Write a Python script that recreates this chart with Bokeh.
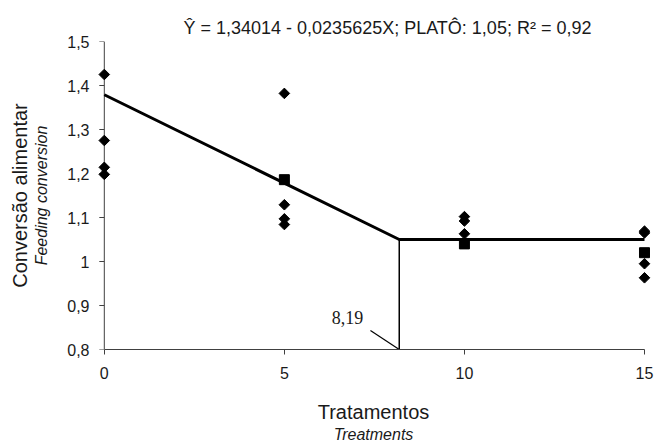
import math
from bokeh.plotting import figure
from bokeh.models import Label, FixedTicker, Range1d, LinearAxis
from bokeh.embed import file_html
from bokeh.resources import INLINE

# ---- data ----
treat_pts = [0, 0, 0, 0, 5, 5, 5, 5, 10, 10, 10, 15, 15, 15, 15]
conv_pts = [1.425, 1.275, 1.214, 1.198, 1.382, 1.129, 1.097, 1.084,
            1.102, 1.092, 1.063, 1.069, 1.065, 0.995, 0.963]
treat_means = [5, 10, 15]
conv_means = [1.186, 1.040, 1.020]
knee_x = 8.19
plateau = 1.05
fit_x = [0, knee_x, 15]
fit_y = [1.379, plateau, plateau]
x_ticks = [0, 5, 10, 15]
y_ticks = [0.8, 0.9, 1.0, 1.1, 1.2, 1.3, 1.4, 1.5]
y_tick_labels = ["0,8", "0,9", "1", "1,1", "1,2", "1,3", "1,4", "1,5"]
title_text = "Ŷ = 1,34014 - 0,0235625X; PLATÔ: 1,05; R² = 0,92"
knee_label = "8,19"
x_title = "Tratamentos"
x_title_en = "Treatments"
y_title = "Conversão alimentar"
y_title_en = "Feeding conversion"

SANS = "Liberation Sans"
SERIF = "Liberation Serif"
TXT = "#1a1a1a"
AX = "#404040"

X0, X1 = -0.3, 15.25
p = figure(width=655, height=445, output_backend="svg", toolbar_location=None,
           x_range=Range1d(X0, X1), y_range=Range1d(0.8, 1.5),
           min_border_left=93, min_border_right=2, min_border_top=41,
           min_border_bottom=96)
p.outline_line_color = None
p.xgrid.visible = False
p.ygrid.visible = False
p.background_fill_color = "white"
p.border_fill_color = "white"

# title
p.title.text = title_text
p.title.text_font = SANS
p.title.text_font_size = "18px"
p.title.text_font_style = "normal"
p.title.text_color = TXT
p.title.align = "left"
p.title.offset = 90
p.title.standoff = 8

xa = p.xaxis[0]
ya = p.yaxis[0]
for ax in (xa, ya):
    ax.axis_line_color = AX
    ax.major_tick_line_color = AX
    ax.major_tick_in = 0
    ax.major_tick_out = 5
    ax.minor_tick_line_color = None
    ax.major_label_text_font = SANS
    ax.major_label_text_font_size = "16px"
    ax.major_label_text_color = TXT
    ax.axis_label_text_font = SANS
    ax.axis_label_text_color = TXT

xa.ticker = FixedTicker(ticks=x_ticks)
xa.bounds = (0, 15)
xa.major_label_standoff = 12
xa.axis_label = x_title
xa.axis_label_text_font_size = "20px"
xa.axis_label_text_font_style = "normal"
xa.axis_label_standoff = 19

# y axis: labels from the library axis at the frame edge; its line and ticks
# are redrawn at x = 0 below (the frame is padded so edge markers are not cut)
ya.ticker = FixedTicker(ticks=y_ticks)
ya.major_label_overrides = {t: l for t, l in zip(y_ticks, y_tick_labels)}
ya.axis_line_color = None
ya.major_tick_line_color = None
ya.major_tick_out = 0
ya.major_label_standoff = 4
ya.axis_label = y_title_en
ya.axis_label_text_font_size = "16px"
ya.axis_label_text_font_style = "italic"
ya.axis_label_standoff = 14


def label_only_axis(text, size, style, standoff):
    return LinearAxis(ticker=FixedTicker(ticks=[]), axis_label=text,
                      axis_line_color=None, major_tick_line_color=None,
                      minor_tick_line_color=None, major_tick_out=0, minor_tick_out=0,
                      major_label_standoff=0, axis_label_standoff=standoff,
                      axis_label_text_font=SANS, axis_label_text_font_size=size,
                      axis_label_text_font_style=style, axis_label_text_color=TXT)


p.add_layout(label_only_axis(x_title_en, "16px", "italic", 0), "below")
p.add_layout(label_only_axis(y_title, "20px", "normal", 0), "left")

# y axis line and outward ticks at x = 0 (5 px long)
px_per_unit = (655 - 93 - 2) / (X1 - X0)
tick_len = 5 / px_per_unit
p.line([0, 0], [y_ticks[0], y_ticks[-1]], line_color=AX, line_width=1)
p.segment(x0=[0] * len(y_ticks), y0=y_ticks, x1=[-tick_len] * len(y_ticks),
          y1=y_ticks, line_color=AX, line_width=1)

# fitted broken line
p.line(fit_x, fit_y, line_color="black", line_width=3)
# vertical line at knee
p.line([knee_x, knee_x], [0.8, plateau], line_color="black", line_width=1.5)
# leader line for the knee label
p.line([knee_x - 0.8, knee_x], [0.843, 0.8], line_color="black", line_width=1.2)

# observations (diamonds) and means (squares)
p.scatter(treat_pts, conv_pts, marker="square", size=7.5, angle=math.pi / 4,
          fill_color="black", line_color="black")
p.scatter(treat_means, conv_means, marker="square", size=10,
          fill_color="black", line_color="black")

# knee label
p.add_layout(Label(x=knee_x - 1.44, y=0.873, text=knee_label, text_font=SERIF,
                   text_font_size="18px", text_align="center",
                   text_baseline="middle", text_color=TXT))

open("out.html", "w").write(file_html(p, INLINE))
